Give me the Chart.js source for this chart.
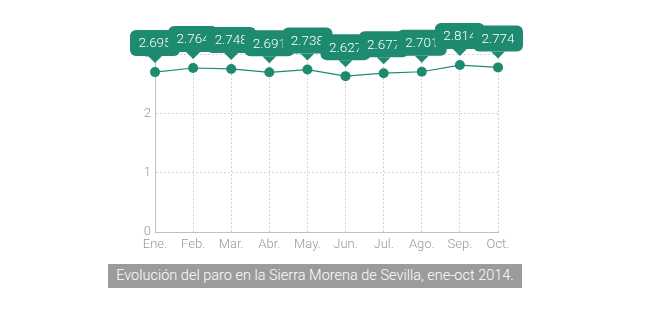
<!DOCTYPE html>
<html>
<head>
<meta charset="utf-8">
<script src="https://cdn.jsdelivr.net/npm/chart.js@4"></script>
<style>
  body { margin: 0; background: #fff; }
  #wrap { position: relative; width: 660px; height: 330px; }
  #paro { position: absolute; left: 0; top: 0; }
  .pie {
    position: absolute; left: 108px; top: 264px; width: 414px; height: 24px;
    background: #9b9b9b; color: #fff; font: 300 14.5px Roboto, sans-serif;
    line-height: 24px; text-align: center; white-space: nowrap;
  }
</style>
</head>
<body>
<div id="wrap">
  <canvas id="paro" width="660" height="330"></canvas>
  <div class="pie">Evolución del paro en la Sierra Morena de Sevilla, ene-oct 2014.</div>
</div>
<script>
// Parados por mes (miles)
const meses = ['Ene.', 'Feb.', 'Mar.', 'Abr.', 'May.', 'Jun.', 'Jul.', 'Ago.', 'Sep.', 'Oct.'];
const parados = [2.695, 2.764, 2.748, 2.691, 2.738, 2.627, 2.677, 2.701, 2.814, 2.774];
const ticksY = [0, 1, 2, 3];

const verde = '#1e8b71';

// Globos con el valor sobre cada punto, siempre visibles
const globos = {
  id: 'globos',
  afterDatasetsDraw(chart) {
    const ctx = chart.ctx;
    const meta = chart.getDatasetMeta(0);
    const w = 50, h = 26, r = 6, pico = 7;
    ctx.save();
    ctx.font = '300 13.5px Roboto, sans-serif';
    ctx.textAlign = 'center';
    ctx.textBaseline = 'middle';
    meta.data.forEach((pt, i) => {
      const x = pt.x, bottom = pt.y - 16, top = bottom - h;
      ctx.fillStyle = verde;
      ctx.beginPath();
      ctx.roundRect(x - w / 2, top, w, h, r);
      ctx.fill();
      ctx.beginPath();
      ctx.moveTo(x - pico, bottom);
      ctx.lineTo(x, bottom + pico);
      ctx.lineTo(x + pico, bottom);
      ctx.closePath();
      ctx.fill();
      ctx.fillStyle = '#fff';
      ctx.fillText(parados[i].toFixed(3), x, top + h / 2 + 1);
    });
    ctx.restore();
  }
};

new Chart(document.getElementById('paro'), {
  type: 'line',
  data: {
    labels: meses,
    datasets: [{
      data: parados,
      borderColor: verde,
      backgroundColor: verde,
      borderWidth: 1.2,
      pointRadius: 5,
      pointBackgroundColor: verde,
      pointBorderWidth: 0,
      tension: 0
    }]
  },
  options: {
    responsive: false,
    animation: false,
    layout: { padding: { left: 125, right: 162, top: 54, bottom: 76 } },
    plugins: { legend: { display: false }, tooltip: { enabled: false } },
    scales: {
      x: {
        offset: false,
        afterFit: s => { s.height = 22; },
        grid: { color: '#d4d4d4', drawTicks: false },
        border: { color: '#c0c0c0', dash: [2, 2] },
        ticks: { color: '#999', padding: 5, font: { family: 'Roboto', weight: 300, size: 13 } }
      },
      y: {
        min: 0, max: 3,
        afterFit: s => { s.width = 30; },
        afterBuildTicks: s => { s.ticks = ticksY.map(v => ({ value: v })); },
        grid: { color: '#d4d4d4', drawTicks: false },
        border: { color: '#c0c0c0', dash: [2, 2] },
        ticks: { color: '#999', padding: 4, font: { family: 'Roboto', weight: 300, size: 13 } }
      }
    }
  },
  plugins: [globos]
});
</script>
</body>
</html>
